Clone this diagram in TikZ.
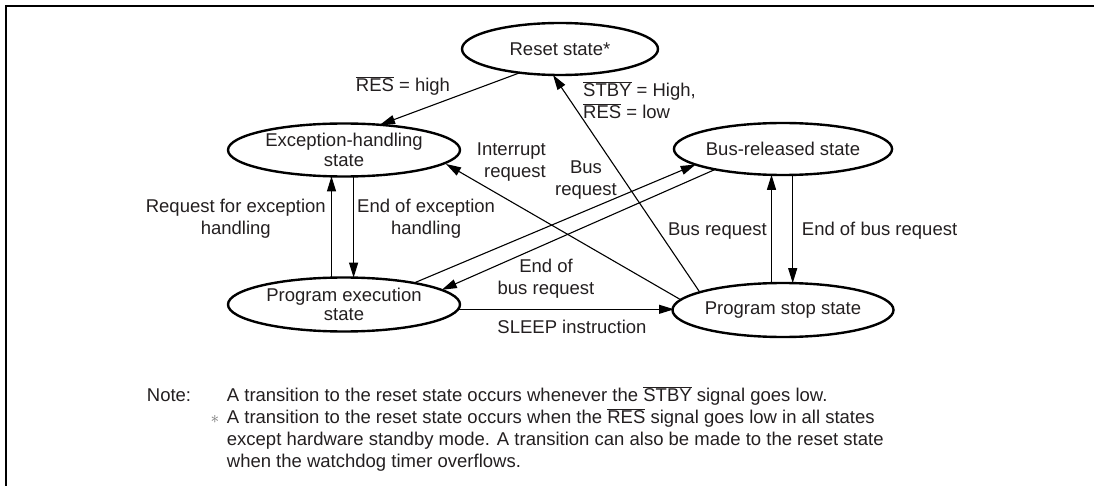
\documentclass[tikz,border=0pt]{standalone}
\usepackage{fontspec}
\setmainfont{Liberation Sans}
\usetikzlibrary{arrows.meta,calc,shapes.geometric}
\newcommand{\ovl}[1]{$\overline{\mbox{#1}}$}
\definecolor{txt}{RGB}{35,31,32}
\begin{document}
\begin{tikzpicture}[x=1pt,y=-1pt,
  font=\fontsize{18.5}{22}\selectfont, text=txt,
  state/.style={ellipse, draw=black, line width=2.4pt, inner sep=0pt, align=center,
    font=\fontsize{18.5}{19.5}\selectfont},
  conn/.style={line width=1.1pt, draw=black, -{Triangle[length=15pt,width=9pt]}},
  lbl/.style={inner sep=0pt, align=center},
  notetext/.style={inner sep=0pt, anchor=base west}]
\useasboundingbox (0,0) rectangle (1094,486);
% frame (top and left edges)
\draw[line width=2.4pt] (6,486) -- (6,6) -- (1094,6);
% states
\node[state, minimum width=196pt, minimum height=52pt] (reset) at (560,49) {Reset state*};
\node[state, minimum width=232pt, minimum height=53pt] (exc) at (344,150) {Exception-handling\\state};
\node[state, minimum width=217pt, minimum height=52pt] (bus) at (783,149) {Bus-released state};
\node[state, minimum width=232pt, minimum height=54pt] (pexe) at (344,304.5) {Program execution\\state};
\node[state, minimum width=218pt, minimum height=54pt] (pstop) at (783,310) {Program stop state};
% connectors
\draw[conn] ($(reset.center)+(-40,23.7)$) -- ($(exc.center)+(36,-25.2)$);
\draw[conn] ($(exc.center)+(9.6,26.4)$) -- ($(pexe.center)+(9.6,-26.9)$);
\draw[conn] ($(pexe.center)+(-12.5,-26.8)$) -- ($(exc.center)+(-12.5,26.35)$);
\draw[conn] ($(pstop.center)+(-101.5,-9.8)$) -- ($(exc.center)+(102,14)$);
\draw[conn] ($(pexe.center)+(70,-21.5)$) -- ($(bus.center)+(-87.3,15.5)$);
\draw[conn] ($(bus.center)+(-68,20.5)$) -- ($(pexe.center)+(97.8,-14.7)$);
\draw[conn] ($(pstop.center)+(-83,-17.5)$) -- ($(reset.center)+(-7,26)$);
\draw[conn] ($(pstop.center)+(-11.5,-26.8)$) -- ($(bus.center)+(-11.5,25.8)$);
\draw[conn] ($(bus.center)+(9.7,25.9)$) -- ($(pstop.center)+(9.7,-26.9)$);
\draw[conn] ($(pexe.center)+(114,4.8)$) -- ($(pstop.center)+(-109,-0.7)$);
% labels
\node[lbl] (l1) at (403,86) {\ovl{RES} = high};
\node[lbl, anchor=east] (l2) at (326,218.5) {Request for exception\\handling};
\node[lbl, anchor=west] (l3) at (357,218.5) {End of exception\\handling};
\node[lbl, anchor=east, align=right] (l4) at (546,162.5) {Interrupt\\request};
\node[lbl] (l5) at (586,180) {Bus\\request};
\node[lbl] (l6) at (546,278.5) {End of\\bus request};
\node[lbl] (l7) at (572,326.7) {SLEEP instruction};
\node[lbl, anchor=west, align=left] (l8) at (583,100) {\ovl{STBY} = High,\\\ovl{RES} = low};
\node[lbl, anchor=east] (l9) at (767,230.7) {Bus request};
\node[lbl, anchor=west] (l10) at (801.7,230.7) {End of bus request};
% note
\node[notetext] (note) at (146.7,401.5) {Note:};
\node[notetext] (n1) at (226.7,401.5) {A transition to the reset state occurs whenever the \ovl{STBY} signal goes low.};
\node[inner sep=0pt, text=black!55] (ast) at (215,419.5) {$\ast$};
\node[notetext] (n2) at (226.7,423.5) {A transition to the reset state occurs when the \ovl{RES} signal goes low in all states};
\node[notetext] (n3) at (226.7,445.5) {except hardware standby mode. A transition can also be made to the reset state};
\node[notetext] (n4) at (226.7,467.5) {when the watchdog timer overflows.};
\end{tikzpicture}
\end{document}
